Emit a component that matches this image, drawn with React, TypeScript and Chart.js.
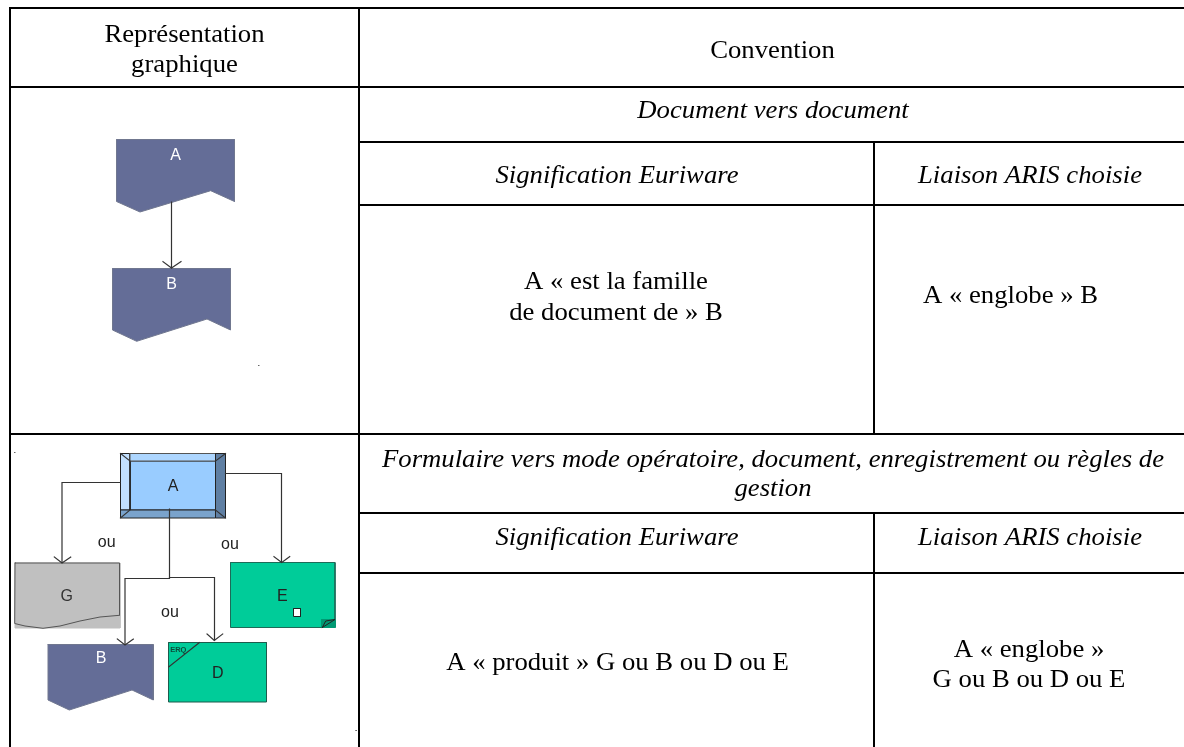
import React, { useEffect, useRef } from "react";
import { Chart, registerables } from "chart.js";

Chart.register(...registerables);

type P = [number, number];

// Table rules, in picture units
const tableRules: P[][] = [
  [[10, 8], [1184, 8]],
  [[10, 87], [1184, 87]],
  [[359, 142], [1184, 142]],
  [[359, 205], [1184, 205]],
  [[10, 434], [1184, 434]],
  [[359, 513], [1184, 513]],
  [[359, 573], [1184, 573]],
  [[10, 8], [10, 747]],
  [[359, 8], [359, 747]],
  [[874, 142], [874, 434]],
  [[874, 513], [874, 747]],
];

// Filled shapes
const docTopA: P[] = [[116.5, 139.5], [234.5, 139.5], [234.5, 201.5], [210.7, 190.7], [140, 212], [116.5, 201.5], [116.5, 139.5]];
const docTopB: P[] = [[112.5, 268.5], [230.5, 268.5], [230.5, 330], [207, 319], [136.7, 341.3], [112.5, 330], [112.5, 268.5]];
const docBottomB: P[] = [[48, 644.5], [153.3, 644.5], [153.3, 700], [132, 690], [69.3, 710], [48, 700], [48, 644.5]];
const grayG: P[] = [[15, 563], [120, 563], [120, 628], [15, 628], [15, 563]];
const formLeft: P[] = [[120.5, 453.5], [130, 453.5], [130, 510], [120.5, 510], [120.5, 453.5]];
const formTop: P[] = [[130, 453.5], [215.5, 453.5], [215.5, 461], [130, 461], [130, 453.5]];
const formBottom: P[] = [[120.5, 510], [215.5, 510], [215.5, 518], [120.5, 518], [120.5, 510]];
const formRight: P[] = [[215.5, 453.5], [225.5, 453.5], [225.5, 518], [215.5, 518], [215.5, 453.5]];
const formCentre: P[] = [[130, 461], [215.5, 461], [215.5, 510], [130, 510], [130, 461]];
const greenE: P[] = [[230.5, 562.5], [335, 562.5], [335, 627.5], [230.5, 627.5], [230.5, 562.5]];
const foldE: P[] = [[321.5, 619.5], [335, 619.5], [335, 627.5], [321.5, 627.5], [321.5, 619.5]];
const foldLineE: P[] = [[322.3, 627.5], [325.7, 621], [335, 619.5], [322.3, 627.5]];
const squareE: P[] = [[293.5, 608.5], [300.5, 608.5], [300.5, 616.5], [293.5, 616.5], [293.5, 608.5]];
const greenD: P[] = [[168.5, 642.5], [266.5, 642.5], [266.5, 702], [168.5, 702], [168.5, 642.5]];

// Connector and outline lines
const curveG: P[] = [[15, 563], [119.5, 563], [119.5, 615.3], [100, 617], [80, 621], [60, 626], [43, 628.3], [25, 626], [14.7, 623.5], [15, 563]];
const connectors: P[][] = [
  [[171.5, 202], [171.5, 268]],
  [[163, 261.7], [171.5, 268], [181, 261.7]],
  [[120, 482.5], [62, 482.5], [62, 562.5]],
  [[54.3, 557], [62, 563], [70.7, 557]],
  [[225.5, 473.5], [281.5, 473.5], [281.5, 562.5]],
  [[274, 556.7], [281.7, 562.5], [289.7, 556.7]],
  [[169.5, 509], [169.5, 577.5]],
  [[125, 644], [125, 578.5], [169.5, 578.5]],
  [[117.3, 639], [125, 645], [133.3, 639]],
  [[169.5, 577.5], [214.5, 577.5], [214.5, 640]],
  [[207, 634], [214.3, 640.5], [222.7, 634]],
  [[120.5, 453.5], [130, 461]],
  [[225.5, 453.5], [215.5, 461]],
  [[120.5, 518], [130, 510]],
  [[225.5, 518], [215.5, 510]],
  [[168.7, 667], [199.3, 642.7]],
];
const specks: P[][] = [
  [[258, 365.5], [259, 365.5]],
  [[14, 452.5], [15, 452.5]],
  [[355.5, 730.5], [356.5, 730.5]],
];

const slate = "#646d97";

// Cell texts: [label, x, baseline]
const upright: [string, number, number][] = [
  ["Représentation", 184.5, 41.5],
  ["graphique", 184.5, 71.5],
  ["Convention", 772.5, 57.5],
  ["A « est la famille", 616, 289],
  ["de document de » B", 616, 320],
  ["A « englobe » B", 1010.5, 303],
  ["A « produit » G ou B ou D ou E", 617.5, 670],
  ["A « englobe »", 1029, 657],
  ["G ou B ou D ou E", 1029, 687],
];
const slanted: [string, number, number][] = [
  ["Document vers document", 773, 118],
  ["Signification Euriware", 617, 183],
  ["Liaison ARIS choisie", 1030, 183],
  ["Formulaire vers mode opératoire, document, enregistrement ou règles de", 773, 467],
  ["gestion", 773, 496],
  ["Signification Euriware", 617, 545],
  ["Liaison ARIS choisie", 1030, 545],
];
// Shape labels: [label, x, baseline, colour]
const shapeLabels: [string, number, number, string][] = [
  ["A", 175.5, 160, "#ffffff"],
  ["B", 171.7, 289, "#ffffff"],
  ["A", 173, 491, "#222222"],
  ["G", 66.7, 601, "#333333"],
  ["B", 101, 663, "#ffffff"],
  ["E", 282.3, 601, "#222222"],
  ["D", 217.7, 678, "#222222"],
  ["ou", 106.7, 547, "#222222"],
  ["ou", 170, 616.7, "#222222"],
  ["ou", 230, 549, "#222222"],
];

const fills: [P[], string, string][] = [
  [docTopA, slate, "#70778f"],
  [docTopB, slate, "#70778f"],
  [docBottomB, slate, "#70778f"],
  [grayG, "#c0c0c0", "#c0c0c0"],
  [formCentre, "#99ccff", "#222222"],
  [formLeft, "#c2e0ff", "#222222"],
  [formTop, "#add6ff", "#555555"],
  [formBottom, "#7aa3cc", "#222222"],
  [formRight, "#5f7fa3", "#222222"],
  [greenE, "#00cc99", "#1d6b58"],
  [foldE, "#009973", "#009973"],
  [squareE, "#ffffff", "#222222"],
  [greenD, "#00cc99", "#1d5b4c"],
];

const pts = (p: P[]) => p.map(([x, y]) => ({ x, y }));

const WIDEN = 1.068;

const textPlugin = {
  id: "cellText",
  afterDraw(chart: any) {
    const { ctx, scales } = chart;
    const X = (v: number) => scales.x.getPixelForValue(v);
    const Y = (v: number) => scales.y.getPixelForValue(v);
    const wide = (t: string, x: number, y: number) => {
      ctx.save();
      ctx.translate(X(x), Y(y));
      ctx.scale(WIDEN, 1);
      ctx.fillText(t, 0, 0);
      ctx.restore();
    };
    ctx.save();
    ctx.textAlign = "center";
    ctx.textBaseline = "alphabetic";
    ctx.fillStyle = "#000000";
    ctx.font = '25px "Liberation Serif"';
    upright.forEach(([t, x, y]) => wide(t, x, y));
    ctx.font = 'italic 25px "Liberation Serif"';
    slanted.forEach(([t, x, y]) => wide(t, x, y));
    ctx.font = '16px "Liberation Sans"';
    shapeLabels.forEach(([t, x, y, c]) => {
      ctx.fillStyle = c;
      ctx.fillText(t, X(x), Y(y));
    });
    ctx.font = 'bold 7.5px "Liberation Sans"';
    ctx.fillStyle = "#0b4a3a";
    ctx.fillText("ERQ", X(178.3), Y(652));
    ctx.restore();
  },
};

export default function App() {
  const ref = useRef<HTMLCanvasElement>(null);
  useEffect(() => {
    const datasets: any[] = [];
    fills.forEach(([shape, bg, edge]) =>
      datasets.push({ data: pts(shape), showLine: true, fill: "shape", backgroundColor: bg, borderColor: edge, borderWidth: 1 })
    );
    datasets.push({ data: pts(curveG), showLine: true, fill: false, borderColor: "#555555", borderWidth: 1 });
    datasets.push({ data: pts(foldLineE), showLine: true, fill: false, borderColor: "#222222", borderWidth: 1 });
    connectors.forEach((c) => datasets.push({ data: pts(c), showLine: true, fill: false, borderColor: "#333333", borderWidth: 1.2 }));
    specks.forEach((c) => datasets.push({ data: pts(c), showLine: true, fill: false, borderColor: "#666666", borderWidth: 1 }));
    tableRules.forEach((c) => datasets.push({ data: pts(c), showLine: true, fill: false, borderColor: "#000000", borderWidth: 2 }));
    datasets.forEach((d, i) => {
      d.order = datasets.length - i;
      d.pointRadius = 0;
      d.tension = 0;
      d.clip = false;
      d.borderCapStyle = "square";
    });
    const chart = new Chart(ref.current as HTMLCanvasElement, {
      type: "scatter",
      data: { datasets },
      options: {
        animation: false,
        responsive: false,
        layout: { padding: 0 },
        plugins: { legend: { display: false }, tooltip: { enabled: false }, title: { display: false } },
        scales: {
          x: { type: "linear", display: false, min: 0, max: 1184 },
          y: { type: "linear", display: false, min: 0, max: 747, reverse: true },
        },
      },
      plugins: [textPlugin],
    } as any);
    return () => chart.destroy();
  }, []);
  return (
    <div style={{ position: "fixed", left: 0, top: 0, width: 1184, height: 747, background: "#ffffff" }}>
      <canvas ref={ref} width={1184} height={747} style={{ display: "block" }} />
    </div>
  );
}
